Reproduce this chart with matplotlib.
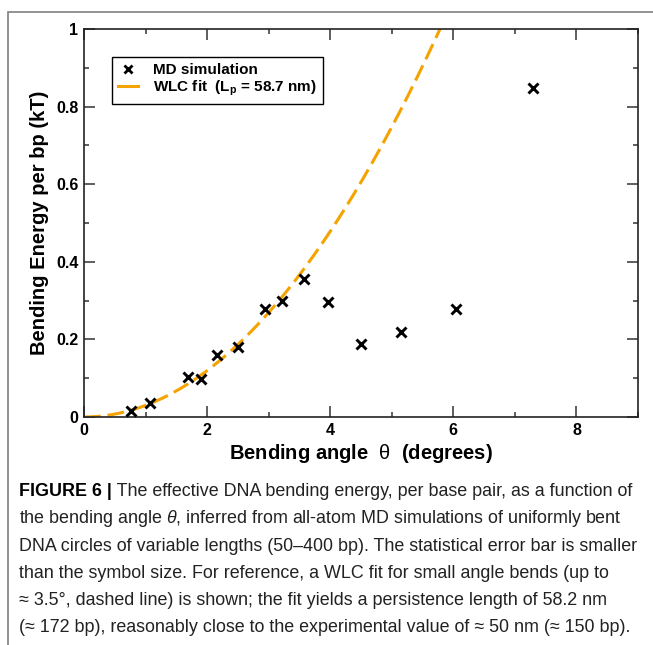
import matplotlib
matplotlib.use('Agg')
import matplotlib.pyplot as plt
import numpy as np
from matplotlib.lines import Line2D
from matplotlib.patches import Rectangle
from matplotlib.ticker import MultipleLocator

plt.rcParams['font.family'] = ['Liberation Sans', 'DejaVu Sans']
plt.rcParams['mathtext.fontset'] = 'custom'
plt.rcParams['mathtext.rm'] = 'Liberation Sans'
plt.rcParams['mathtext.it'] = 'Liberation Sans:italic'
plt.rcParams['mathtext.bf'] = 'Liberation Sans:bold'

# MD simulation points (bending angle in degrees, energy per bp in kT)
md_angle = [0.77, 1.08, 1.69, 1.90, 2.16, 2.50, 2.94, 3.22, 3.57, 3.97, 4.50, 5.15, 6.05, 7.29]
md_energy = [0.016, 0.036, 0.103, 0.099, 0.161, 0.181, 0.278, 0.300, 0.355, 0.296, 0.189, 0.219, 0.279, 0.847]

# WLC fit: E = k * theta^2, k (hits 1 kT at ~5.78 deg)
wlc_k = 0.0299
wlc_label = 'WLC fit  (L$_{\\mathbf{p}}$ = 58.7 nm)'

caption_head = 'FIGURE 6 |'
caption_lines = [
    ' The effective DNA bending energy, per base pair, as a function of',
    'the bending angle $\\theta$, inferred from all-atom MD simulations of uniformly bent',
    'DNA circles of variable lengths (50\u2013400 bp). The statistical error bar is smaller',
    'than the symbol size. For reference, a WLC fit for small angle bends (up to',
    '\u2248 3.5\u00b0, dashed line) is shown; the fit yields a persistence length of 58.2 nm',
    '(\u2248 172 bp), reasonably close to the experimental value of \u2248 50 nm (\u2248 150 bp).',
]

orange = '#f5a300'

fig = plt.figure(figsize=(6.53, 6.45), dpi=100)
ax = fig.add_axes([84 / 653, 1 - 417 / 645, 554 / 653, 388 / 645])

theta = np.linspace(0, 6.2, 300)
ax.plot(theta, wlc_k * theta ** 2, color=orange, lw=2.2, dashes=(5.5, 2.2), zorder=2)
ax.plot(md_angle, md_energy, ls='none', marker='x', color='black', ms=7, mew=2.1, zorder=3)

ax.set_xlim(0, 9)
ax.set_ylim(0, 1)
ax.xaxis.set_major_locator(MultipleLocator(2))
ax.xaxis.set_minor_locator(MultipleLocator(1))
ax.yaxis.set_major_locator(MultipleLocator(0.2))
ax.yaxis.set_minor_locator(MultipleLocator(0.1))
ax.xaxis.set_major_formatter(plt.FuncFormatter(lambda v, p: '%g' % v))
ax.yaxis.set_major_formatter(plt.FuncFormatter(lambda v, p: '%g' % round(v, 1)))
ax.tick_params(which='both', direction='in', top=True, right=True, width=1.1, color='#333333')
ax.tick_params(which='major', length=8, labelsize=11.5, pad=4)
ax.tick_params(which='minor', length=3.6)
for lab in ax.get_xticklabels() + ax.get_yticklabels():
    lab.set_fontweight('bold')
for s in ax.spines.values():
    s.set_linewidth(1.2)
    s.set_color('#222222')

ax.set_xlabel('Bending angle  $\\mathrm{\\theta}$  (degrees)', fontsize=14.5, fontweight='bold', labelpad=3)
ax.set_ylabel('Bending Energy per bp (kT)', fontsize=14.5, fontweight='bold', labelpad=5)

handles = [
    Line2D([], [], ls='none', marker='x', color='black', ms=6, mew=2),
    Line2D([], [], color=orange, lw=2.2),
]
leg = ax.legend(handles, ['MD simulation', wlc_label], loc='upper left',
                bbox_to_anchor=(28 / 554, 360 / 388), borderaxespad=0, fancybox=False,
                framealpha=1, edgecolor='black', handlelength=1.3, handletextpad=1.0,
                borderpad=0.4, labelspacing=0.1, prop={'weight': 'bold', 'size': 11})
leg.get_frame().set_linewidth(1.0)

# border around the whole figure panel
fig.add_artist(Rectangle((8 / 653, -0.05), 1.0, 1 - 12 / 645 + 0.05,
                         transform=fig.transFigure, fill=False, ec='#808080', lw=1.2))

# caption
fs = 12.9
y0 = 1 - 496 / 645
dy = 27.3 / 645
head = fig.text(19 / 653, y0, caption_head, fontsize=fs, fontweight='bold', va='baseline')
fig.canvas.draw()
bb = head.get_window_extent()
x_after = bb.x1 / fig.bbox.width
fig.text(x_after, y0, caption_lines[0], fontsize=fs, va='baseline', color='#222222')
for i, line in enumerate(caption_lines[1:], start=1):
    fig.text(19 / 653, y0 - i * dy, line, fontsize=fs, va='baseline', color='#222222')

fig.savefig('out.png', dpi=100)
